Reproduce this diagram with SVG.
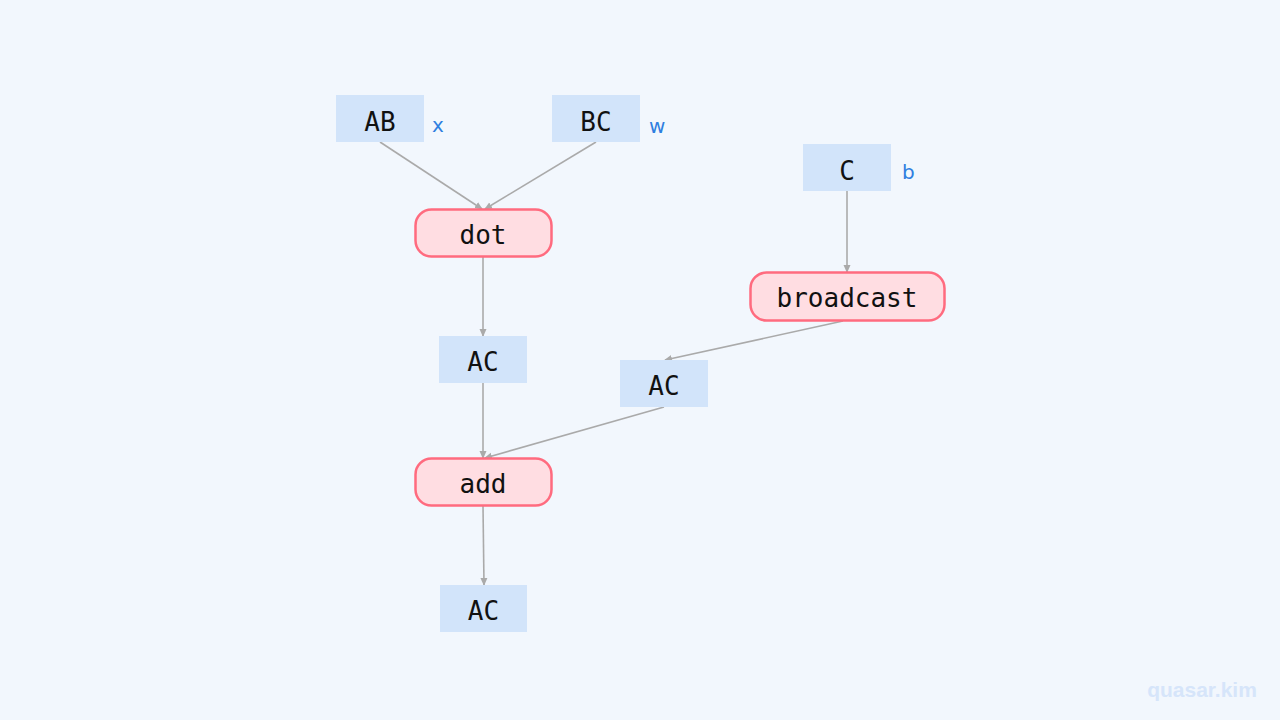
<svg xmlns="http://www.w3.org/2000/svg" width="1280" height="720" viewBox="0 0 1280 720">
<defs>
<marker id="arr" markerWidth="8" markerHeight="8" refX="7" refY="4" orient="auto" markerUnits="userSpaceOnUse">
<path d="M0,0.5 L8,4 L0,7.5 Z" fill="#aaaaaa"/>
</marker>
<style>
.t{fill:#d2e4fa}
.op{fill:#ffdde2;stroke:#ff6b7f;stroke-width:2.5}
.lbl{font-family:"DejaVu Sans Mono","Liberation Mono",monospace;font-size:26px;fill:#111;text-anchor:middle;dominant-baseline:central}
.var{font-family:"DejaVu Sans","Liberation Sans",sans-serif;font-size:20px;fill:#2f7fe0}
.e{stroke:#aaaaaa;stroke-width:1.6;fill:none;marker-end:url(#arr)}
</style>
</defs>
<rect width="1280" height="720" fill="#f2f7fd"/>
<g id="connectors">
<line class="e" x1="380" y1="142" x2="482" y2="209"/>
<line class="e" x1="596" y1="142" x2="485" y2="209"/>
<line class="e" x1="483" y1="257" x2="483" y2="336"/>
<line class="e" x1="847" y1="191" x2="847" y2="272"/>
<line class="e" x1="843" y1="321" x2="665" y2="360"/>
<line class="e" x1="483" y1="383" x2="483" y2="458"/>
<line class="e" x1="664" y1="407" x2="485" y2="458"/>
<line class="e" x1="483" y1="506" x2="484" y2="585"/>
</g>
<g id="AB"><rect class="t" x="336" y="95" width="88" height="47"/><text class="lbl" x="380" y="122">AB</text><text class="var" x="432" y="132">x</text></g>
<g id="BC"><rect class="t" x="552" y="95" width="88" height="47"/><text class="lbl" x="596" y="122">BC</text><text class="var" x="649" y="133">w</text></g>
<g id="C"><rect class="t" x="803" y="144" width="88" height="47"/><text class="lbl" x="847" y="171">C</text><text class="var" x="902" y="179">b</text></g>
<g id="dot"><rect class="op" x="415.5" y="209.5" width="136" height="47" rx="16"/><text class="lbl" x="483" y="235">dot</text></g>
<g id="broadcast"><rect class="op" x="750.5" y="272.5" width="194" height="48" rx="16"/><text class="lbl" x="847" y="298">broadcast</text></g>
<g id="AC1"><rect class="t" x="439" y="336" width="88" height="47"/><text class="lbl" x="483" y="362">AC</text></g>
<g id="AC2"><rect class="t" x="620" y="360" width="88" height="47"/><text class="lbl" x="664" y="386">AC</text></g>
<g id="add"><rect class="op" x="415.5" y="458.5" width="136" height="47" rx="16"/><text class="lbl" x="483" y="484">add</text></g>
<g id="AC3"><rect class="t" x="440" y="585" width="87" height="47"/><text class="lbl" x="483.5" y="611">AC</text></g>
<text x="1202" y="697" font-family="Liberation Sans,Arial,sans-serif" font-weight="bold" font-size="21" fill="#d6e5fa" text-anchor="middle">quasar.kim</text>
</svg>
